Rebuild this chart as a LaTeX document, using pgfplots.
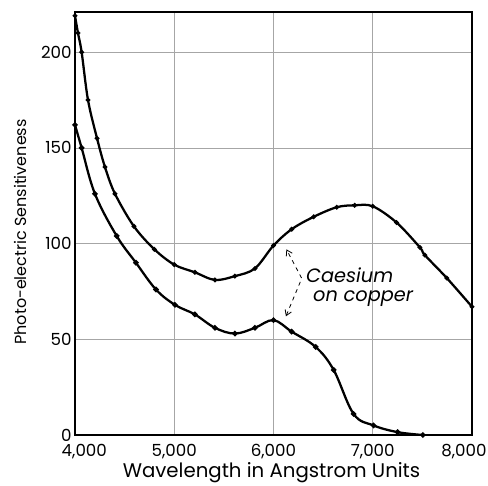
\documentclass[border=0pt]{standalone}
\usepackage{pgfplots}
\pgfplotsset{compat=1.18}
\usepackage{fontspec}
\setmainfont{Poppins}
\usetikzlibrary{arrows.meta}
\begin{document}
\begin{tikzpicture}
\begin{axis}[
  scale only axis,
  width=297.75pt, height=317.25pt,
  xmin=4000, xmax=8000, ymin=0, ymax=221,
  xtick={4000,5000,6000,7000,8000},
  xticklabels={{\kern14pt 4,000},{5,000},{6,000},{7,000},{\kern-12pt 8,000}},
  ytick={0,50,100,150,200},
  /pgf/number format/assume math mode=true,
  xticklabel style={font=\fontsize{12.5}{14}\selectfont, anchor=center, yshift=-12.5pt},
  yticklabel style={font=\fontsize{12.5}{14}\selectfont, xshift=1pt},
  grid=major,
  major grid style={gray!70, line width=0.5pt},
  axis line style={black, line width=0.9pt},
  tick style={draw=none},
  xlabel={Wavelength in Angstrom Units},
  ylabel={Photo-electric Sensitiveness},
  xlabel style={font=\fontsize{14.8}{16}\selectfont, at={(axis description cs:0.495,0)}, anchor=center, yshift=-28pt},
  ylabel style={font=\fontsize{12}{14}\selectfont, at={(axis description cs:-0.138,0.48)}, anchor=center},
  clip=false,
]
\addplot[black, line width=1.7pt, smooth, tension=0.55, mark=*, mark size=0.8pt] coordinates {
(4000,219) (4030,210) (4067,200) (4131,175) (4222,155) (4302,140) (4403,126) (4594,109)
(4800,97) (5000,89) (5208,85) (5410,81) (5611,83) (5813,87) (6000,99) (6183,107.5)
(6405,114) (6637,119) (6818,120) (7000,119.5) (7240,111) (7475,98) (7525,94) (7746,82) (8000,67)
};
\addplot[black, line width=1.7pt, smooth, tension=0.6, mark=o, mark size=1.1pt] coordinates {
(4000,162) (4067,150) (4201,126) (4420,104) (4614,90) (4816,76) (5007,68) (5208,63)
(5410,56) (5611,53) (5813,56) (6000,60) (6183,54) (6425,46) (6606,34) (6807,11)
(7008,5) (7250,1.5) (7505,0)
};
\node[anchor=west, font=\fontsize{14.5}{16}\selectfont\itshape, inner sep=0pt] at (axis cs:6326,83.5) {Caesium};
\node[anchor=west, font=\fontsize{14.5}{16}\selectfont\itshape, inner sep=0pt] at (axis cs:6397,71.5) {on copper};
\draw[dashed, line width=0.6pt, -{Straight Barb[length=4pt,width=5pt]}] (axis cs:6283,82) -- (axis cs:6130,97);
\draw[dashed, line width=0.6pt, -{Straight Barb[length=4pt,width=5pt]}] (axis cs:6270,80) -- (axis cs:6125,62);
\end{axis}
\pgfresetboundingbox
\path ([xshift=-56.25pt,yshift=-37.5pt]current axis.south west) rectangle ([xshift=12pt,yshift=9pt]current axis.north east);
\end{tikzpicture}
\end{document}
